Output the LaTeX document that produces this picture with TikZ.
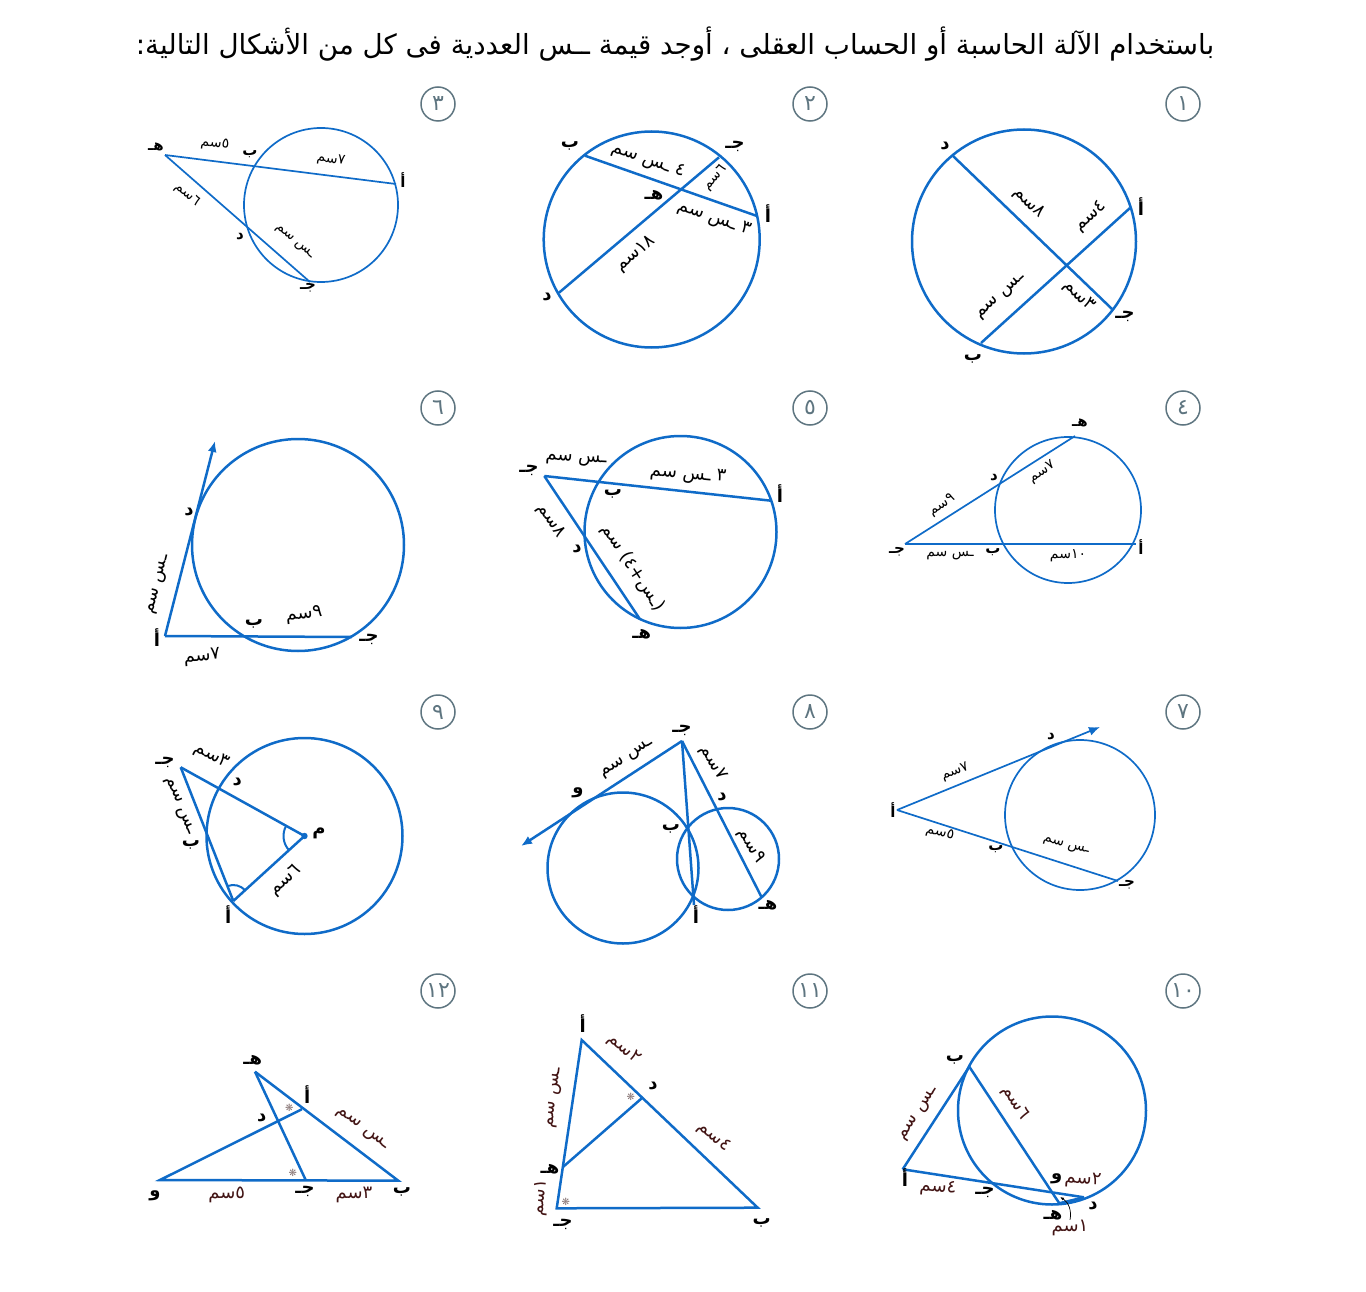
\documentclass[tikz,border=0pt]{standalone}
\usepackage{fontspec}
\usepackage{xcolor}
\usetikzlibrary{arrows.meta,angles}
\TeXXeTstate=1
\newfontfamily\arabicfont[Script=Arabic]{DejaVu Sans}
\newfontfamily\symfont{DejaVu Sans}
\newcommand{\artxt}[1]{\beginR #1\endR}
\definecolor{lineblue}{HTML}{0F6BC8}
\definecolor{badgegray}{HTML}{5E7580}
\definecolor{darkmaroon}{HTML}{421414}
\definecolor{stargray}{HTML}{8A7878}

\begin{document}
\begin{tikzpicture}[x=1pt, y=-1pt,
  chord/.style={draw=lineblue, line width=2.5pt},
  thinchord/.style={draw=lineblue, line width=1.7pt},
  ray/.style={chord, -{Latex[length=11pt,width=9pt]}},
  thinray/.style={thinchord, -{Latex[length=11pt,width=9pt]}},
  lbl/.style={inner sep=0pt, font=\arabicfont\bfseries\fontsize{18}{20}\selectfont},
  lblsm/.style={inner sep=0pt, font=\arabicfont\bfseries\fontsize{15}{17}\selectfont},
  meas/.style={inner sep=0pt, font=\arabicfont\fontsize{18}{20}\selectfont},
  meassm/.style={inner sep=0pt, font=\arabicfont\fontsize{14}{16}\selectfont},
  measdk/.style={meas, text=darkmaroon},
  badge/.style={circle, draw=badgegray, line width=1.5pt, minimum size=34pt,
                inner sep=0pt, text=badgegray,
                font=\arabicfont\fontsize{22}{24}\selectfont},
  starmark/.style={inner sep=0pt, text=stargray, font=\symfont\fontsize{10}{11}\selectfont}]
\useasboundingbox (0,0) rectangle (1366,1292);

\node[inner sep=0pt, font=\arabicfont\fontsize{27.7}{30}\selectfont] (title) at (675,44)
  {\artxt{باستخدام الآلة الحاسبة أو الحساب العقلى ، أوجد قيمة ــس العددية فى كل من الأشكال التالية:}};

\node[badge] (n1) at (1183,104) {\artxt{١}};
\node[badge] (n2) at (810,104) {\artxt{٢}};
\node[badge] (n3) at (438,104) {\artxt{٣}};
\node[badge] (n4) at (1183,408) {\artxt{٤}};
\node[badge] (n5) at (810,408) {\artxt{٥}};
\node[badge] (n6) at (438,408) {\artxt{٦}};
\node[badge] (n7) at (1183,712) {\artxt{٧}};
\node[badge] (n8) at (810,712) {\artxt{٨}};
\node[badge] (n9) at (438,712) {\artxt{٩}};
\node[badge] (n10) at (1183,991) {\artxt{١٠}};
\node[badge] (n11) at (810,991) {\artxt{١١}};
\node[badge] (n12) at (438,991) {\artxt{١٢}};

\coordinate (o1) at (1024,241.5);
\coordinate (a1) at (1130,208);
\coordinate (b1) at (981,343);
\coordinate (c1) at (1112,309);
\coordinate (d1) at (953,156);
\draw[chord] (o1) circle (112);
\draw[chord] (a1) -- (b1);
\draw[chord] (d1) -- (c1);
\node[lbl] (la1) at (1141,207) {\artxt{أ}};
\node[lbl] (lb1) at (973,359) {\artxt{ب}};
\node[lbl] (lc1) at (1125,316) {\artxt{جـ}};
\node[lbl] (ld1) at (945,146) {\artxt{د}};
\node[meas, rotate=-44] (m1a) at (1029,203) {\artxt{٨سم}};
\node[meas, rotate=42] (m1b) at (1091,217) {\artxt{٤سم}};
\node[meas, rotate=42] (m1c) at (1001,297) {\artxt{ـس سم}};
\node[meas, rotate=-44] (m1d) at (1079,296) {\artxt{٣سم}};

\coordinate (o2) at (651.7,239.5);
\coordinate (a2) at (757,216);
\coordinate (b2) at (585,155.7);
\coordinate (c2) at (719,157.3);
\coordinate (d2) at (559,292.7);
\draw[chord] (o2) circle (108);
\draw[chord] (a2) -- (b2);
\draw[chord] (c2) -- (d2);
\node[lbl] (la2) at (768,214) {\artxt{أ}};
\node[lbl] (lb2) at (570,146) {\artxt{ب}};
\node[lbl] (lc2) at (735,146) {\artxt{جـ}};
\node[lbl] (ld2) at (547,297) {\artxt{د}};
\node[lbl] (le2) at (654,195) {\artxt{هـ}};
\node[meas, rotate=-19] (m2a) at (648,161) {\artxt{٤ ـس سم}};
\node[meas, rotate=-19] (m2b) at (714,219) {\artxt{٣ ـس سم}};
\node[meassm, rotate=48] (m2c) at (715,178) {\artxt{٦سم}};
\node[meas, rotate=40] (m2d) at (636,254) {\artxt{١٨سم}};

\coordinate (o3) at (321,205);
\coordinate (a3) at (396,184);
\coordinate (c3) at (310,282);
\coordinate (e3) at (165,155);
\draw[thinchord] (o3) circle (77);
\draw[thinchord] (e3) -- (a3);
\draw[thinchord] (e3) -- (c3);
\node[lblsm] (la3) at (403,180) {\artxt{أ}};
\node[lblsm] (lb3) at (250,154) {\artxt{ب}};
\node[lblsm] (lc3) at (308,288) {\artxt{جـ}};
\node[lblsm] (ld3) at (240,237) {\artxt{د}};
\node[lblsm] (le3) at (156,147) {\artxt{هـ}};
\node[meassm, rotate=-7] (m3a) at (215,144) {\artxt{٥سم}};
\node[meassm, rotate=-7] (m3b) at (331,160) {\artxt{٧سم}};
\node[meassm, rotate=-41] (m3c) at (187,195) {\artxt{٦سم}};
\node[meassm, rotate=-41] (m3d) at (294,242) {\artxt{ـس سم}};

\coordinate (o4) at (1068,510);
\coordinate (a4) at (1136,544);
\coordinate (c4) at (905,544);
\coordinate (e4) at (1075,436);
\draw[thinchord] (o4) circle (73);
\draw[thinchord] (c4) -- (a4);
\draw[thinchord] (c4) -- (e4);
\node[lblsm] (la4) at (1141,547) {\artxt{أ}};
\node[lblsm] (lb4) at (993,552) {\artxt{ب}};
\node[lblsm] (lc4) at (897,552) {\artxt{جـ}};
\node[lblsm] (ld4) at (994,478) {\artxt{د}};
\node[lblsm] (le4) at (1080,423) {\artxt{هـ}};
\node[meassm, rotate=33] (m4a) at (942,505) {\artxt{٩سم}};
\node[meassm, rotate=33] (m4b) at (1042,472) {\artxt{٧سم}};
\node[meassm] (m4c) at (950,556) {\artxt{ـس سم}};
\node[meassm] (m4d) at (1068,556) {\artxt{١٠سم}};

\coordinate (o5) at (680.5,532);
\coordinate (a5) at (771,500.7);
\coordinate (c5) at (544.3,476);
\coordinate (e5) at (640,619.3);
\draw[chord] (o5) circle (96);
\draw[chord] (c5) -- (a5);
\draw[chord] (c5) -- (e5);
\node[lbl] (la5) at (780,494) {\artxt{أ}};
\node[lbl] (lb5) at (613,494) {\artxt{ب}};
\node[lbl] (lc5) at (529,470) {\artxt{جـ}};
\node[lbl] (ld5) at (577,549) {\artxt{د}};
\node[lbl] (le5) at (641.7,634) {\artxt{هـ}};
\node[meas, rotate=-3] (m5a) at (576,460) {\artxt{ـس سم}};
\node[meas, rotate=-5] (m5b) at (688,475) {\artxt{٣ ـس سم}};
\node[meas, rotate=-56] (m5c) at (551,521) {\artxt{٨سم}};
\node[meas, rotate=-57] (m5d) at (633,568) {\artxt{(ـس+٤) سم}};

\coordinate (o6) at (298,545);
\coordinate (a6) at (165,636);
\coordinate (c6) at (352,637);
\coordinate (t6) at (215,441);
\draw[chord] (o6) circle (106);
\draw[chord] (a6) -- (c6);
\draw[ray] (a6) -- (t6);
\node[lbl] (la6) at (157,638) {\artxt{أ}};
\node[lbl] (lb6) at (254,624) {\artxt{ب}};
\node[lbl] (lc6) at (369,639) {\artxt{جـ}};
\node[lbl] (ld6) at (189,512) {\artxt{د}};
\node[meas, rotate=7] (m6a) at (304,615) {\artxt{٩سم}};
\node[meas, rotate=5] (m6b) at (202,657) {\artxt{٧سم}};
\node[meas, rotate=76] (m6c) at (159,585) {\artxt{ـس سم}};

\coordinate (o7) at (1080,815);
\coordinate (a7) at (897,810);
\coordinate (c7) at (1118,881);
\coordinate (t7) at (1100,727);
\draw[thinchord] (o7) circle (75);
\draw[thinchord] (a7) -- (c7);
\draw[thinray] (a7) -- (t7);
\node[lblsm] (la7) at (893,810) {\artxt{أ}};
\node[lblsm] (lb7) at (996,849) {\artxt{ب}};
\node[lblsm] (lc7) at (1127,885) {\artxt{جـ}};
\node[lblsm] (ld7) at (1051,737) {\artxt{د}};
\node[meassm, rotate=22] (m7a) at (955,772) {\artxt{٧سم}};
\node[meassm, rotate=-15] (m7b) at (940,833) {\artxt{٥سم}};
\node[meassm, rotate=-15] (m7c) at (1066,846) {\artxt{ـس سم}};

\coordinate (o8) at (623,868);
\coordinate (p8) at (728,859);
\coordinate (c8) at (682,741);
\coordinate (a8) at (694,905);
\coordinate (e8) at (762,898);
\coordinate (t8) at (521,846);
\draw[chord] (o8) circle (75.5);
\draw[chord] (p8) circle (51);
\draw[chord] (c8) -- (a8);
\draw[chord] (c8) -- (e8);
\draw[ray] (c8) -- (t8);
\node[lbl] (la8) at (696,915) {\artxt{أ}};
\node[lbl] (lb8) at (671,829) {\artxt{ب}};
\node[lbl] (lc8) at (682,730) {\artxt{جـ}};
\node[lbl] (ld8) at (722,797) {\artxt{د}};
\node[lbl] (le8) at (768,905) {\artxt{هـ}};
\node[lbl] (lf8) at (578,793) {\artxt{و}};
\node[meas, rotate=33] (m8a) at (627,759) {\artxt{ـس سم}};
\node[meas, rotate=-60] (m8b) at (713,763) {\artxt{٧سم}};
\node[meas, rotate=-60] (m8c) at (751,846) {\artxt{٩سم}};

\coordinate (o9) at (304.5,836);
\coordinate (a9) at (233.3,901);
\coordinate (c9) at (180.7,767.3);
\draw[chord] (o9) circle (98);
\draw[chord] (c9) -- (o9);
\draw[chord] (c9) -- (a9);
\draw[chord] (a9) -- (o9);
\fill[lineblue] (o9) circle (3.2);
\pic[draw=lineblue, line width=2pt, angle radius=21pt] {angle=c9--o9--a9};
\pic[draw=lineblue, line width=2pt, angle radius=16pt] {angle=o9--a9--c9};
\node[lbl] (la9) at (228.3,915) {\artxt{أ}};
\node[lbl] (lb9) at (191,845) {\artxt{ب}};
\node[lbl] (lc9) at (165,762) {\artxt{جـ}};
\node[lbl] (ld9) at (237.3,782) {\artxt{د}};
\node[lbl] (lo9) at (319,833) {\artxt{م}};
\node[meas, rotate=-27] (m9a) at (211.7,756) {\artxt{٣سم}};
\node[meas, rotate=-68] (m9b) at (179,806) {\artxt{ـس سم}};
\node[meas, rotate=42] (m9c) at (286,881) {\artxt{٦سم}};

\coordinate (o10) at (1052,1110.5);
\coordinate (a10) at (902.7,1169.3);
\coordinate (b10) at (969.3,1066.7);
\coordinate (d10) at (1084,1197.3);
\coordinate (e10) at (1059.3,1203.3);
\coordinate (f10) at (1060,1197);
\draw[chord] (o10) circle (94);
\draw[chord] (a10) -- (b10);
\draw[chord] (a10) -- (d10);
\draw[chord] (b10) -- (e10);
\draw[chord] (e10) -- (d10);
\node[lbl] (la10) at (905,1178) {\artxt{أ}};
\node[lbl] (lb10) at (955,1060) {\artxt{ب}};
\node[lbl] (lc10) at (985,1192) {\artxt{جـ}};
\node[lbl] (ld10) at (1093,1206) {\artxt{د}};
\node[lbl] (le10) at (1053,1215) {\artxt{هـ}};
\node[lbl] (lf10) at (1056.7,1179) {\artxt{و}};
\node[measdk, rotate=57] (m10a) at (919,1114) {\artxt{ـس سم}};
\node[measdk, rotate=-57] (m10b) at (1015,1103) {\artxt{٦سم}};
\node[measdk, rotate=-4] (m10c) at (938,1188) {\artxt{٤سم}};
\node[measdk, rotate=-3] (m10d) at (1083,1180) {\artxt{٢سم}};
\node[measdk] (m10e) at (1070,1228) {\artxt{١سم}};
\draw[black, line width=0.7pt, -{Latex[length=4pt,width=3pt]}] (m10e.north) to[bend right=35] (f10);

\coordinate (a11) at (581.7,1040);
\coordinate (b11) at (757.7,1207.7);
\coordinate (c11) at (556.7,1208.3);
\coordinate (d11) at (641.7,1098.3);
\coordinate (e11) at (563.3,1166.7);
\draw[chord] (a11) -- (b11) -- (c11) -- cycle;
\draw[chord] (d11) -- (e11);
\node[lbl] (la11) at (582.7,1024) {\artxt{أ}};
\node[lbl] (lb11) at (761.7,1222.7) {\artxt{ب}};
\node[lbl] (lc11) at (563,1224) {\artxt{جـ}};
\node[lbl] (ld11) at (653,1086) {\artxt{د}};
\node[lbl] (le11) at (550,1169) {\artxt{هـ}};
\node[measdk, rotate=-42] (m11a) at (624,1049) {\artxt{٢سم}};
\node[measdk, rotate=-42] (m11b) at (714,1137) {\artxt{٤سم}};
\node[measdk, rotate=83] (m11c) at (555,1098) {\artxt{ـس سم}};
\node[measdk, rotate=83] (m11d) at (541,1198) {\artxt{١سم}};
\node[starmark] (s11a) at (630.7,1097) {❋};
\node[starmark] (s11b) at (565.7,1201.7) {❋};

\coordinate (a12) at (301.7,1109.3);
\coordinate (b12) at (398.3,1180.7);
\coordinate (c12) at (305.7,1180);
\coordinate (e12) at (255,1071.7);
\coordinate (f12) at (160,1180);
\draw[chord] (e12) -- (b12) -- (f12) -- (a12);
\draw[chord] (e12) -- (c12);
\node[lbl] (la12) at (307.3,1095) {\artxt{أ}};
\node[lbl] (lb12) at (402,1192) {\artxt{ب}};
\node[lbl] (lc12) at (305,1191) {\artxt{جـ}};
\node[lbl] (ld12) at (261.7,1118.3) {\artxt{د}};
\node[lbl] (le12) at (252.7,1060) {\artxt{هـ}};
\node[lbl] (lf12) at (155,1196) {\artxt{و}};
\node[measdk, rotate=-37] (m12a) at (362,1129) {\artxt{ـس سم}};
\node[measdk] (m12b) at (226.7,1195) {\artxt{٥سم}};
\node[measdk] (m12c) at (354,1195) {\artxt{٣سم}};
\node[starmark] (s12a) at (289.3,1107.7) {❋};
\node[starmark] (s12b) at (292.7,1172.7) {❋};
\end{tikzpicture}
\end{document}
